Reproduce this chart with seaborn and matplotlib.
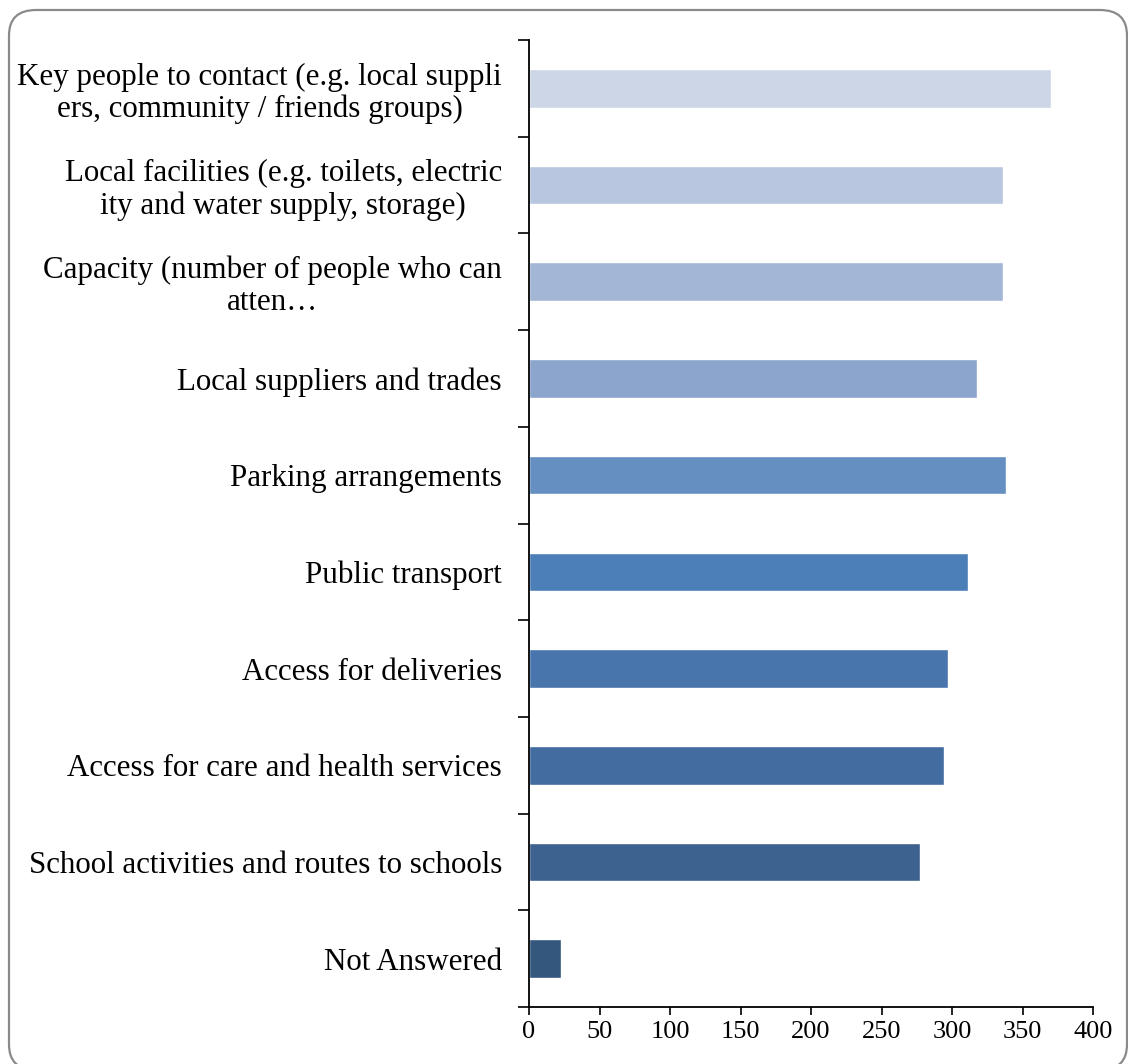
import matplotlib
matplotlib.use("Agg")
import matplotlib.pyplot as plt
from matplotlib.patches import FancyBboxPatch
from matplotlib.ticker import FixedLocator
import seaborn as sns
import pandas as pd

categories = [
    "Key people to contact (e.g. local suppli\ners, community / friends groups)",
    "Local facilities (e.g. toilets, electric\nity and water supply, storage)",
    "Capacity (number of people who can\natten\u2026",
    "Local suppliers and trades",
    "Parking arrangements",
    "Public transport",
    "Access for deliveries",
    "Access for care and health services",
    "School activities and routes to schools",
    "Not Answered",
]
values = [370, 336, 336, 318, 338, 311, 297, 294, 277, 23]
bar_colors = [
    "#CDD6E7", "#B9C6DF", "#A4B6D6", "#8BA5CD", "#668FC1",
    "#4C7EB8", "#4975AD", "#436CA1", "#3E628F", "#34577E",
]
x_ticks = [0, 50, 100, 150, 200, 250, 300, 350, 400]

df = pd.DataFrame({"category": categories, "count": values})

sns.set_theme(style="white")
plt.rcParams["font.family"] = ["Liberation Serif", "DejaVu Serif"]
plt.rcParams["text.color"] = "black"
plt.rcParams["xtick.color"] = "black"
plt.rcParams["ytick.color"] = "black"

W, H = 1128, 1064
fig = plt.figure(figsize=(W / 100, H / 100), dpi=100)
fig.patch.set_facecolor("white")

# rounded frame around the chart area
frame = FancyBboxPatch(
    (9 / W, -6 / H), (1127 - 9) / W, (H - 10 + 6) / H,
    boxstyle="round,pad=0,rounding_size=0.024",
    transform=fig.transFigure, facecolor="none",
    edgecolor="#8A8A8A", linewidth=1.6, zorder=0,
)
fig.patches.append(frame)

ax = fig.add_axes([529 / W, 1 - 1007 / H, (1093 - 529) / W, (1007 - 40) / H])
sns.barplot(
    data=df, x="count", y="category", hue="category",
    palette=bar_colors, orient="h", width=0.4, legend=False,
    saturation=1, ax=ax,
)

ax.set_xlim(0, 400)
ax.set_ylim(len(categories) - 0.5, -0.5)
ax.set_xlabel("")
ax.set_ylabel("")
ax.set_facecolor("white")

for side in ("top", "right"):
    ax.spines[side].set_visible(False)
for side in ("left", "bottom"):
    ax.spines[side].set_color("black")
    ax.spines[side].set_linewidth(1.3)

ax.xaxis.set_major_locator(FixedLocator(x_ticks))
ax.set_xticklabels([str(t) for t in x_ticks])
ax.tick_params(axis="x", which="major", direction="out", length=6, width=1.2,
               color="black", labelcolor="black", labelsize=19, pad=4, bottom=True)

# category labels without tick marks; marks sit between categories
ax.tick_params(axis="y", which="major", length=0, pad=19.5, labelsize=22.3,
               labelcolor="black")
ax.yaxis.set_minor_locator(FixedLocator([i - 0.5 for i in range(len(categories) + 1)]))
ax.tick_params(axis="y", which="minor", direction="out", length=8, width=1.2,
               color="black", left=True)
for lab in ax.get_yticklabels():
    lab.set_multialignment("center")
    lab.set_linespacing(1.12)

fig.savefig("out.png", dpi=100, facecolor="white")
